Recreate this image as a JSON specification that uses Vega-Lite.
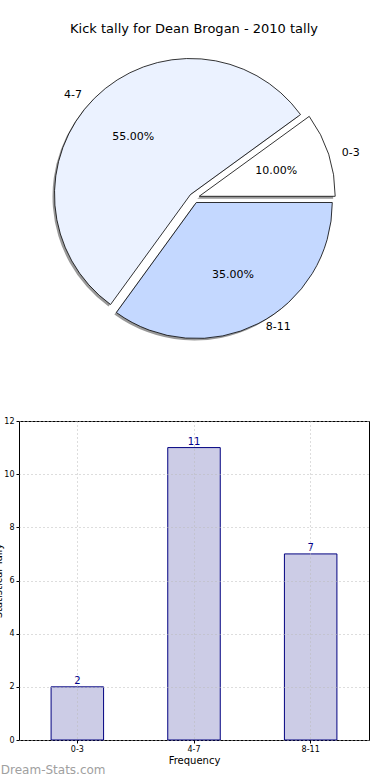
{
  "$schema": "https://vega.github.io/schema/vega-lite/v6.json",
  "padding": {"left": -7, "top": 23, "right": 0, "bottom": 0},
  "bounds": "flush",
  "spacing": 70,
  "title": {"text": "Kick tally for Dean Brogan - 2010 tally", "fontSize": 13, "fontWeight": "normal", "font": "DejaVu Sans", "anchor": "middle", "frame": "group", "offset": 9, "color": "black"},
  "config": {"font": "DejaVu Sans"},
  "datasets": {
    "tally": [
      {"cat": "0-3", "n": 2, "pct": "10.00%"},
      {"cat": "4-7", "n": 11, "pct": "55.00%"},
      {"cat": "8-11", "n": 7, "pct": "35.00%"}
    ]
  },
  "vconcat": [
    {
      "width": 350,
      "height": 306,
      "view": {"stroke": null},
      "data": {"name": "tally"},
      "encoding": {
        "theta": {"field": "n", "type": "quantitative", "stack": true, "scale": {"range": [1.5708, 7.854]}},
        "order": {"field": "cat", "type": "ordinal", "sort": "descending"}
      },
      "layer": [
        {"mark": {"type": "arc", "outerRadius": 136, "fill": "#808080", "xOffset": 3.2, "yOffset": 0.8},
         "encoding": {"opacity": {"condition": {"test": "datum.cat === '0-3'", "value": 0.8}, "value": 0}}},
        {"mark": {"type": "arc", "outerRadius": 136, "fill": "#FFFFFF", "stroke": "black", "strokeWidth": 0.8, "xOffset": 5.2, "yOffset": -1.7},
         "encoding": {"opacity": {"condition": {"test": "datum.cat === '0-3'", "value": 1}, "value": 0}}},
        {"mark": {"type": "arc", "outerRadius": 136, "fill": "#808080", "xOffset": -5.5, "yOffset": -1.5},
         "encoding": {"opacity": {"condition": {"test": "datum.cat === '4-7'", "value": 0.8}, "value": 0}}},
        {"mark": {"type": "arc", "outerRadius": 136, "fill": "#EBF2FF", "stroke": "black", "strokeWidth": 0.8, "xOffset": -3.5, "yOffset": -3.5},
         "encoding": {"opacity": {"condition": {"test": "datum.cat === '4-7'", "value": 1}, "value": 0}}},
        {"mark": {"type": "arc", "outerRadius": 136, "fill": "#808080", "xOffset": 0.3, "yOffset": 6.5},
         "encoding": {"opacity": {"condition": {"test": "datum.cat === '8-11'", "value": 0.8}, "value": 0}}},
        {"mark": {"type": "arc", "outerRadius": 136, "fill": "#C4D8FF", "stroke": "black", "strokeWidth": 0.8, "xOffset": 2.3, "yOffset": 4.5},
         "encoding": {"opacity": {"condition": {"test": "datum.cat === '8-11'", "value": 1}, "value": 0}}},
        {"mark": {"type": "text", "radius": 150, "align": "left", "baseline": "middle", "fontSize": 11, "color": "black", "xOffset": 5.2, "yOffset": 1},
         "encoding": {"text": {"field": "cat"}, "opacity": {"condition": {"test": "datum.cat === '0-3'", "value": 1}, "value": 0}}},
        {"mark": {"type": "text", "radius": 150, "align": "right", "baseline": "middle", "fontSize": 11, "color": "black", "xOffset": -6, "yOffset": 3},
         "encoding": {"text": {"field": "cat"}, "opacity": {"condition": {"test": "datum.cat === '4-7'", "value": 1}, "value": 0}}},
        {"mark": {"type": "text", "radius": 147, "align": "left", "baseline": "middle", "fontSize": 11, "color": "black", "xOffset": 5, "yOffset": -2},
         "encoding": {"text": {"field": "cat"}, "opacity": {"condition": {"test": "datum.cat === '8-11'", "value": 1}, "value": 0}}},
        {"mark": {"type": "text", "radius": 81, "align": "center", "baseline": "middle", "fontSize": 11, "color": "black", "xOffset": 5.2, "yOffset": -1.7},
         "encoding": {"text": {"field": "pct"}, "opacity": {"condition": {"test": "datum.cat === '0-3'", "value": 1}, "value": 0}}},
        {"mark": {"type": "text", "radius": 81, "align": "center", "baseline": "middle", "fontSize": 11, "color": "black", "xOffset": -3.5, "yOffset": -3.5},
         "encoding": {"text": {"field": "pct"}, "opacity": {"condition": {"test": "datum.cat === '4-7'", "value": 1}, "value": 0}}},
        {"mark": {"type": "text", "radius": 81, "align": "center", "baseline": "middle", "fontSize": 11, "color": "black", "xOffset": 2.3, "yOffset": 4.5},
         "encoding": {"text": {"field": "pct"}, "opacity": {"condition": {"test": "datum.cat === '8-11'", "value": 1}, "value": 0}}}
      ]
    },
    {
      "width": 350,
      "height": 319,
      "view": {"stroke": "black", "strokeWidth": 1},
      "title": {"text": "Dream-Stats.com", "orient": "bottom", "anchor": "start", "frame": "bounds", "color": "#A0A0A0", "fontSize": 12, "fontWeight": "normal", "offset": 0, "dx": 7},
      "data": {"name": "tally"},
      "encoding": {
        "x": {"field": "cat", "type": "nominal", "sort": ["0-3", "4-7", "8-11"],
              "scale": {"paddingInner": 0.55, "paddingOuter": 0.275},
              "axis": {"title": "Frequency", "titleFontSize": 10, "titleFontWeight": "normal", "titleColor": "black", "titlePadding": 2,
                       "labelFontSize": 8, "labelColor": "black", "labelAngle": 0, "labelPadding": 2, "bandPosition": 0.5,
                       "grid": true, "gridDash": [1, 3], "gridColor": "#BBBBBB", "gridWidth": 1,
                       "tickSize": 3, "tickColor": "black", "domain": false, "zindex": 1}},
        "y": {"field": "n", "type": "quantitative",
              "scale": {"domain": [0, 12], "nice": false},
              "axis": {"title": "Statistical Tally", "values": [0, 2, 4, 6, 8, 10, 12], "titleFontSize": 10, "titleFontWeight": "normal", "titleColor": "black", "titlePadding": 0,
                       "labelFontSize": 8, "labelColor": "black", "labelPadding": 2,
                       "grid": true, "gridDash": [1, 3], "gridColor": "#BBBBBB", "gridWidth": 1,
                       "tickSize": 3, "tickColor": "black", "domain": false, "zindex": 1}}
      },
      "layer": [
        {"mark": {"type": "bar", "fill": "#CCCCE6", "stroke": "#000080", "strokeWidth": 1}},
        {"mark": {"type": "text", "baseline": "bottom", "dy": -1, "fontSize": 10, "color": "#00008B"},
         "encoding": {"text": {"field": "n", "type": "quantitative"}}}
      ]
    }
  ]
}
